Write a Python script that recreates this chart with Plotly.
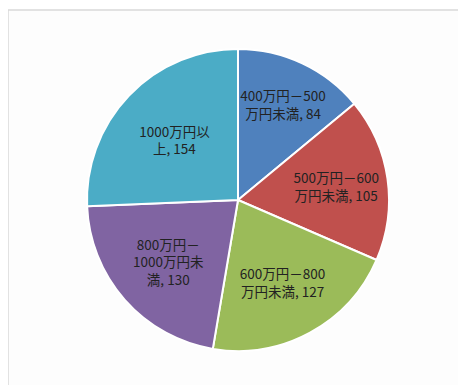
import plotly.graph_objects as go

categories = ["400万円－500<br>万円未満", "500万円－600<br>万円未満", "600万円－800<br>万円未満",
              "800万円－<br>1000万円未<br>満", "1000万円以<br>上"]
values = [84, 105, 127, 130, 154]
colors = ["#4F81BD", "#C0504D", "#9BBB59", "#8064A2", "#4BACC6"]

texts = [f"{c}, {v}" for c, v in zip(categories, values)]

W, H = 466, 385
off = 8  # page body margin
cx, cy, R = 238 - off, 200 - off, 151
ml, mt = cx - R, cy - R
mr, mb = W - (cx + R), H - (cy + R)

fig = go.Figure(go.Pie(
    labels=[c.replace("<br>", "") for c in categories],
    values=values,
    text=texts,
    textinfo="text",
    textposition="inside",
    insidetextorientation="horizontal",
    sort=False,
    direction="clockwise",
    rotation=0,
    marker=dict(colors=colors, line=dict(color="white", width=2)),
    textfont=dict(family="Noto Sans CJK JP", size=13.5, color="#222222"),
    hoverinfo="label+value",
    showlegend=False,
))

dw = 2 * R
fig.add_shape(type="rect", xref="paper", yref="paper",
              x0=(8 - off - ml) / dw, x1=(W + 20 - ml) / dw,
              y0=-(H + 20 - (cy + R)) / dw, y1=(cy + R - (10 - off)) / dw,
              line=dict(color="#D9D9D9", width=1.5), fillcolor="#FDFDFD", layer="below")

fig.update_layout(
    width=W, height=H,
    margin=dict(l=ml, r=mr, t=mt, b=mb),
    paper_bgcolor="white",
    plot_bgcolor="white",
    uniformtext=dict(minsize=13.5, mode="show"),
)

fig.write_html("out.html")
